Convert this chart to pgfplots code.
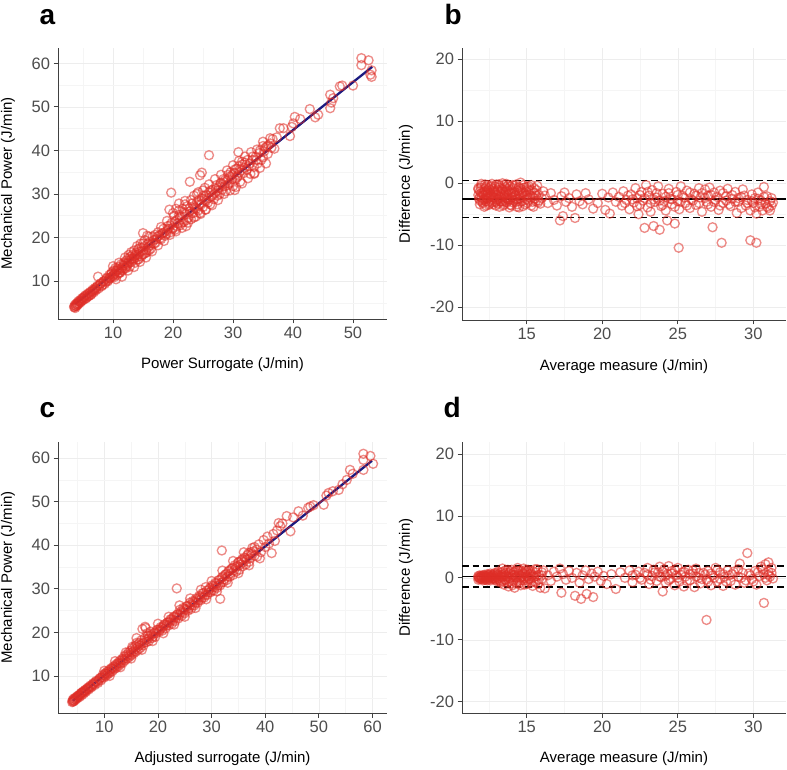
\documentclass[border=0pt]{standalone}
\usepackage{fontspec}
\setmainfont{Liberation Sans}
\usepackage{pgfplots}
\pgfplotsset{compat=1.18}
\usepackage{pgfplotstable}

\definecolor{ptred}{RGB}{222,45,38}
\definecolor{navyline}{RGB}{26,26,128}
\definecolor{tickgrey}{RGB}{77,77,77}

\pgfplotstableread{
x y
3.5 4.0
3.6 4.4
3.7 3.8
3.8 4.7
3.9 4.2
4.0 4.9
4.1 4.5
4.2 5.3
4.3 4.8
4.5 5.6
4.6 5.1
4.8 6.0
4.9 5.5
5.1 6.3
5.2 5.8
5.4 6.7
5.6 6.2
5.8 7.1
6.0 6.6
6.2 7.5
6.4 7.0
6.6 8.0
6.8 7.4
7.0 8.4
7.2 7.9
7.5 11.0
7.4 8.9
7.6 8.3
7.9 9.4
8.1 8.8
8.4 9.9
8.6 9.3
8.9 10.5
9.1 9.9
9.3 10.6
9.4 11.4
9.6 10.9
9.8 12.0
10.0 11.2
10.1 12.4
10.2 10.9
10.3 11.8
10.4 13.0
10.6 12.2
10.7 11.4
10.9 13.2
11.0 12.6
11.1 12.0
11.2 11.9
11.3 13.8
11.5 13.0
11.6 12.4
11.8 14.2
11.9 13.5
12.0 13.0
12.1 12.9
12.2 14.7
12.4 13.9
12.5 15.2
12.6 16.0
12.7 14.2
12.8 13.3
13.0 15.0
13.1 14.4
13.3 16.1
13.4 14.8
13.5 17.0
13.6 15.7
13.7 14.2
13.9 16.5
14.0 15.5
14.1 14.9
14.2 17.3
14.3 15.0
14.5 16.7
14.6 18.6
14.8 17.6
14.9 16.0
15.0 21.0
15.1 16.2
15.3 19.4
15.5 17.0
15.6 16.6
15.7 20.4
15.9 17.8
16.1 19.0
16.3 17.4
16.6 20.2
16.9 18.6
17.2 19.6
17.5 21.2
17.8 19.8
18.1 20.8
18.4 22.0
18.7 20.4
19.0 21.6
19.2 22.0
19.4 26.4
19.6 21.2
19.7 30.3
19.8 23.4
20.0 22.2
20.2 25.0
20.4 21.8
20.6 24.0
20.8 23.2
21.0 27.8
21.2 22.8
21.4 24.8
21.6 26.6
21.8 23.6
22.0 25.4
22.2 22.6
22.4 27.2
22.6 24.6
22.8 32.8
22.8 26.0
23.0 24.2
23.2 27.8
23.4 25.6
23.6 26.8
23.8 24.8
24.0 28.2
24.2 26.2
24.4 27.6
24.5 34.3
24.6 25.4
24.8 34.9
24.8 29.0
25.0 27.0
25.2 28.6
25.4 26.4
25.6 29.8
25.8 28.0
26.0 38.9
26.0 30.4
26.2 27.6
26.4 29.4
26.6 31.0
26.8 28.8
27.0 30.2
27.2 32.0
27.4 29.6
27.6 31.4
27.8 30.0
28.0 32.6
28.2 31.0
28.4 33.4
28.6 31.8
28.8 30.6
29.0 33.0
29.2 34.4
29.4 32.4
29.6 35.0
29.8 33.4
30.0 31.8
30.2 34.8
30.3 30.9
30.4 33.2
30.6 35.8
30.8 34.2
30.9 39.6
31.0 36.4
31.2 32.8
31.4 35.4
31.6 36.8
31.8 34.8
32.0 37.2
32.3 35.6
32.6 36.4
32.9 34.6
33.2 37.8
33.5 36.2
33.6 34.8
33.8 38.6
34.1 37.0
34.4 39.4
34.7 37.8
35.0 42.0
35.0 38.4
35.4 40.6
35.6 40.9
35.8 39.2
36.2 42.8
36.2 41.6
36.6 42.6
36.9 40.4
37.3 43.0
37.8 45.1
38.4 45.1
39.5 43.3
39.8 45.4
40.05 46.2
40.3 47.7
41.2 47.2
42.8 49.5
43.7 47.6
44.2 48.2
46.2 52.8
46.2 49.7
46.4 51.0
46.7 52.0
47.8 54.7
48.2 54.9
50.0 54.9
51.4 61.2
51.4 59.6
52.6 60.7
53.1 58.4
53.1 56.9
52.9 57.4
3.6 4.1
3.8 4.3
4.0 4.6
4.2 4.9
4.4 5.2
4.7 5.4
5.0 6.0
5.3 6.4
5.5 6.0
5.7 6.8
5.9 6.5
6.1 7.2
6.3 6.8
6.5 7.6
6.7 7.7
6.9 8.0
7.1 8.2
7.3 8.6
7.7 9.0
8.0 9.5
8.2 9.0
8.5 10.0
8.8 9.8
9.0 10.8
9.2 10.2
9.5 10.6
9.7 11.6
9.9 11.0
10.2 11.5
10.5 12.4
10.8 12.8
11.0 11.8
11.4 12.6
11.7 13.6
12.0 14.0
12.3 13.4
12.6 14.6
12.9 15.6
13.2 15.2
13.5 15.2
13.8 16.0
14.1 16.0
14.4 17.6
14.7 15.6
15.0 17.0
15.2 18.0
15.4 16.4
15.8 18.6
16.0 17.0
16.2 18.2
16.5 18.6
16.8 19.4
17.1 18.8
17.4 20.2
17.7 20.4
18.0 19.6
18.3 21.0
18.6 21.2
18.9 20.8
19.1 22.6
19.5 22.8
19.9 22.0
20.3 23.6
20.7 22.6
21.1 24.6
21.5 23.4
21.9 25.8
22.3 24.0
22.7 26.6
23.1 25.6
23.5 27.2
23.9 26.6
24.3 28.6
24.7 27.6
25.1 29.6
25.5 28.4
25.9 29.0
26.3 30.8
26.7 29.8
27.1 31.2
27.5 30.8
27.9 32.4
28.3 32.2
28.7 33.2
29.1 32.0
29.5 34.0
29.9 34.4
30.3 35.6
30.7 33.8
31.1 35.0
31.5 37.4
31.9 36.0
32.4 37.8
32.8 37.0
33.3 38.6
33.9 37.8
34.5 40.0
35.2 39.8
35.9 41.2
36.4 40.6
21.0 26.2
22.0 27.6
23.5 29.6
20.5 26.6
24.2 30.4
25.3 31.4
10.0 13.4
10.5 10.4
11.0 14.2
11.5 11.0
12.0 15.4
12.5 12.4
13.0 16.6
13.5 13.2
14.0 18.0
14.5 14.4
15.0 18.6
15.5 15.4
16.0 20.2
16.5 16.8
17.0 20.6
17.5 18.2
18.0 22.4
18.5 19.2
19.0 23.8
19.5 20.6
20.0 25.6
20.5 21.4
21.0 25.2
21.5 22.2
22.0 28.4
22.5 23.4
23.0 28.6
23.5 24.6
24.0 30.0
24.5 25.6
25.0 30.8
25.5 26.4
26.0 32.2
26.5 27.4
27.0 33.4
27.5 28.6
28.0 34.4
28.5 30.0
29.0 35.4
29.5 30.8
30.0 36.6
30.5 31.6
31.0 37.6
31.5 32.4
32.0 38.6
32.5 33.6
33.0 39.6
33.5 34.6
34.0 40.2
34.5 36.0
35.0 41.0
35.5 37.0
}\dataA

\pgfplotstableread{
x y
4.0 4.0
4.1 4.5
4.2 4.1
4.3 4.8
4.4 4.3
4.6 5.0
4.7 4.6
4.9 5.3
5.0 4.9
5.2 5.6
5.4 5.2
5.6 6.0
5.8 5.6
6.0 6.4
6.2 6.0
6.4 6.8
6.6 6.4
6.9 7.3
7.1 6.9
7.4 7.8
7.6 7.4
7.9 8.3
8.2 7.9
8.5 8.9
8.8 8.4
9.1 9.4
9.4 9.0
9.7 10.2
9.9 9.6
10.1 10.6
10.3 10.0
10.5 11.0
10.7 10.4
10.9 11.4
11.1 10.8
11.3 11.8
11.5 11.1
11.7 12.2
11.9 11.6
12.1 12.6
12.3 11.9
12.5 13.0
12.7 12.3
12.9 13.5
13.1 12.8
13.3 13.9
13.5 13.1
13.7 14.5
13.9 13.6
14.1 14.9
14.3 14.0
14.5 15.4
14.7 14.4
14.9 15.8
15.1 14.8
15.2 16.7
15.3 16.4
15.5 15.2
15.7 16.8
15.9 15.6
16.0 18.7
16.1 17.2
16.3 16.0
16.5 17.6
16.7 16.4
16.9 18.2
17.1 20.8
17.3 17.0
17.5 18.6
17.6 21.3
17.7 21.0
17.9 17.8
18.1 19.2
18.3 18.0
18.6 20.2
18.9 18.7
19.2 19.8
19.5 19.0
19.8 20.6
20.2 20.2
20.5 21.2
20.8 20.4
21.1 21.8
21.4 20.9
21.7 22.2
22.0 21.6
22.3 23.0
22.6 22.0
22.9 23.6
23.2 22.6
23.5 30.1
23.5 24.0
23.8 23.2
24.1 25.2
24.4 23.8
24.7 25.6
25.0 24.4
25.3 26.0
25.6 25.0
25.9 26.8
26.2 25.4
26.5 27.2
26.8 26.2
27.1 27.8
27.4 26.8
27.7 28.4
28.0 27.4
28.3 29.0
28.6 28.0
28.9 30.4
29.2 28.6
29.5 29.8
29.8 29.2
30.1 30.8
30.4 29.6
30.7 31.4
31.0 30.2
31.3 32.0
31.6 27.7
31.6 30.8
31.9 38.8
31.9 32.6
32.2 31.6
32.5 33.2
32.8 32.0
33.1 34.0
33.4 32.8
33.7 34.6
34.0 33.2
34.3 35.4
34.6 34.0
34.9 36.0
35.2 34.4
35.5 36.4
35.8 35.2
36.1 37.2
36.4 35.6
36.7 37.8
37.0 36.2
37.3 38.4
37.6 39.4
38.0 37.6
38.4 39.0
38.5 37.4
38.8 40.2
39.2 38.4
39.7 41.2
40.0 39.6
40.4 42.0
40.7 40.4
41.2 38.2
41.5 42.6
41.8 41.0
42.2 43.4
42.5 45.1
42.8 44.4
43.2 45.0
44.0 46.7
44.7 43.2
45.2 46.4
46.2 47.8
47.0 46.8
48.0 48.6
48.4 48.9
49.0 49.2
50.9 49.3
51.4 51.4
51.8 52.0
52.6 52.4
53.7 52.7
54.4 54.0
55.2 55.0
55.8 57.3
56.3 56.4
58.3 61.0
58.3 59.6
58.3 57.3
59.6 60.5
60.1 58.7
4.1 4.2
4.3 4.4
4.5 4.7
4.8 5.0
5.1 5.3
5.3 5.5
5.5 5.7
5.7 6.1
5.9 6.2
6.1 6.3
6.3 6.6
6.5 6.6
6.7 7.0
7.0 7.1
7.2 7.5
7.5 7.5
7.8 8.0
8.0 8.1
8.3 8.6
8.7 8.7
9.0 9.1
9.3 9.6
9.6 9.7
10.0 10.1
10.2 10.5
10.6 10.6
11.0 11.1
11.4 11.6
11.8 11.9
12.2 12.3
12.6 12.8
13.0 13.1
13.4 13.6
13.8 14.0
14.2 14.5
14.6 14.8
15.0 15.4
15.4 15.6
15.8 16.2
16.2 16.6
16.6 17.0
17.0 17.4
17.4 17.6
17.8 18.3
18.2 18.6
18.5 19.2
18.8 19.4
19.1 19.1
19.4 20.0
19.7 19.8
20.0 20.6
20.4 20.6
20.7 21.0
21.0 21.4
21.3 21.8
21.6 21.6
21.9 22.4
22.2 22.3
22.5 23.0
22.8 22.8
23.1 23.6
23.4 23.4
23.7 24.2
24.0 24.0
24.3 24.8
24.6 24.6
24.9 25.4
25.2 25.2
25.5 26.0
25.8 25.6
26.1 26.4
26.4 26.2
26.7 27.0
27.0 26.8
27.3 27.6
27.6 27.4
27.9 28.2
28.2 28.0
28.5 29.0
28.8 28.6
29.1 29.6
29.4 29.2
29.7 30.2
30.0 29.6
30.3 30.6
30.6 30.4
30.9 31.2
31.2 30.8
31.5 32.0
31.8 31.4
32.1 32.8
32.4 32.2
32.7 33.4
33.0 32.8
33.3 34.2
33.6 33.6
33.9 34.8
34.2 34.2
34.5 35.0
34.8 35.2
35.1 36.2
35.4 35.6
35.7 36.8
36.0 36.2
36.3 37.0
36.6 36.8
36.9 38.2
37.2 37.0
37.5 38.0
37.8 38.6
10.0 11.2
11.0 10.0
12.0 13.4
13.0 12.0
14.0 15.4
15.0 14.0
16.0 17.6
17.0 16.0
18.0 19.8
19.0 18.0
20.0 22.0
21.0 19.8
22.0 23.6
23.0 21.8
24.0 26.2
25.0 23.6
26.0 27.8
27.0 25.6
28.0 29.8
29.0 27.6
30.0 31.8
31.0 29.4
32.0 34.2
33.0 31.4
34.0 36.4
35.0 33.6
36.0 38.4
37.0 35.4
38.0 39.6
39.0 37.0
}\dataC

\pgfplotstableread{
x y
11.8 -0.8
11.8 -1.9
11.9 -2.8
11.9 -1.3
12.0 -0.4
12.0 -2.3
12.1 -3.2
12.1 -1.6
12.2 -0.9
12.2 -2.6
12.3 -1.9
12.3 -3.6
12.4 -0.3
12.4 -1.2
12.5 -2.2
12.5 -3.0
12.6 -1.6
12.6 -0.6
12.7 -2.7
12.7 -1.9
12.8 -3.4
12.8 -0.9
12.9 -1.4
12.9 -2.4
13.0 -0.2
13.0 -3.0
13.1 -1.8
13.1 -2.6
13.2 -0.7
13.2 -3.8
13.3 -1.3
13.3 -2.2
13.4 0.0
13.4 -2.9
13.5 -1.6
13.5 -3.4
13.6 -0.6
13.6 -2.4
13.7 -1.9
13.7 -3.1
13.8 -0.3
13.8 -1.2
13.9 -2.6
14.0 -1.7
14.0 -3.6
14.1 -0.8
14.1 -2.2
14.2 -1.4
14.3 -3.0
14.3 -0.2
14.4 -2.5
14.5 -1.8
14.5 -3.9
14.6 -0.9
14.6 0.1
14.7 -2.9
14.8 -1.5
14.8 -2.3
14.9 -3.4
15.0 -0.6
15.0 -1.9
15.1 -2.8
15.2 -1.2
15.3 -3.6
15.3 -0.3
15.4 -2.2
15.5 -1.5
15.6 -2.9
15.7 -0.4
15.8 -1.9
15.9 -3.3
16.0 -2.4
16.2 -2.0
16.4 -3.2
16.6 -1.6
16.8 -2.7
17.0 -3.6
17.2 -6.0
17.3 -2.1
17.4 -5.3
17.5 -1.5
17.6 -3.0
17.8 -2.4
18.0 -3.8
18.2 -5.6
18.3 -1.8
18.5 -2.9
18.7 -3.4
18.9 -1.6
19.1 -2.6
19.4 -4.1
19.7 -3.2
20.0 -1.7
20.2 -4.3
20.4 -2.3
20.5 -4.9
20.7 -1.5
20.9 -3.0
21.1 -2.2
21.3 -3.6
21.4 -1.3
21.6 -2.7
21.8 -4.2
21.9 -1.8
22.1 -3.1
22.2 -0.8
22.3 -2.4
22.4 -5.0
22.5 -3.5
22.6 -1.4
22.7 -2.8
22.8 -7.2
22.9 -0.3
23.0 -3.9
23.1 -2.0
23.2 -4.6
23.3 -1.1
23.4 -6.9
23.5 -3.0
23.6 -2.3
23.7 -0.5
23.8 -7.5
23.9 -3.7
24.0 -1.7
24.1 -2.9
24.2 -4.4
24.3 -6.0
24.4 -0.9
24.5 -2.5
24.6 -3.4
24.8 -6.5
24.9 -1.4
25.0 -2.9
25.06 -10.4
25.1 -4.2
25.2 -0.5
25.3 -2.0
25.5 -3.2
25.6 -1.2
25.8 -4.0
25.9 -2.6
26.1 -1.7
26.2 -3.5
26.4 -0.8
26.5 -2.3
26.6 -4.6
26.8 -1.0
26.9 -3.0
27.0 -2.0
27.1 -0.7
27.2 -3.8
27.3 -7.1
27.4 -1.5
27.5 -2.7
27.7 -4.3
27.8 -1.2
27.9 -9.6
28.0 -3.2
28.2 -2.1
28.3 -0.9
28.5 -3.7
28.6 -2.5
28.8 -1.4
28.9 -4.8
29.0 -3.0
29.2 -2.2
29.3 -1.0
29.5 -3.6
29.6 -2.7
29.8 -9.2
29.8 -4.4
29.9 -1.8
30.0 -3.2
30.1 -2.4
30.2 -9.6
30.2 -4.9
30.3 -1.5
30.4 -3.8
30.5 -2.8
30.6 -4.4
30.7 -0.6
30.8 -3.3
30.9 -2.1
31.0 -4.0
31.1 -2.9
31.2 -3.6
31.3 -3.1
11.8 -1.0
11.9 -2.2
11.9 -3.4
12.0 -1.6
12.0 -0.1
12.1 -2.7
12.2 -1.3
12.2 -3.8
12.3 -0.6
12.3 -2.9
12.4 -1.8
12.4 -2.5
12.5 -0.9
12.5 -3.5
12.6 -2.0
12.6 -1.1
12.7 -3.1
12.7 -0.1
12.8 -2.3
12.8 -1.5
12.9 -3.0
12.9 -0.5
13.0 -1.9
13.0 -2.7
13.1 -1.1
13.1 -3.3
13.2 -0.4
13.2 -2.2
13.3 -1.7
13.3 -3.0
13.4 -1.0
13.4 -2.5
13.5 -0.3
13.5 -2.1
13.6 -1.3
13.6 -3.0
13.7 -2.4
13.7 -0.9
13.8 -2.8
13.8 -1.7
13.9 -0.5
13.9 -3.5
14.0 -2.3
14.0 -1.1
14.1 -3.1
14.2 -2.0
14.2 -0.4
14.3 -2.6
14.4 -1.2
14.4 -3.4
14.5 -0.6
14.6 -2.1
14.6 -3.0
14.7 -1.4
14.8 -0.3
14.9 -2.0
15.0 -2.6
15.1 -1.0
15.2 -2.3
15.4 -3.0
15.5 -0.8
15.6 -2.0
15.8 -2.8
16.1 -1.3
21.5 -3.2
21.7 -2.0
22.0 -2.6
22.3 -3.7
22.5 -1.9
22.8 -2.4
23.0 -1.4
23.2 -3.2
23.4 -2.6
23.6 -1.6
23.8 -2.8
24.0 -3.5
24.2 -2.2
24.4 -1.6
24.6 -2.6
24.8 -3.8
25.0 -1.9
25.2 -3.0
25.4 -2.3
25.6 -3.6
25.8 -1.5
26.0 -2.8
26.2 -2.0
26.4 -3.2
26.6 -1.6
26.8 -2.4
27.0 -3.4
27.2 -1.9
27.4 -3.0
27.6 -2.2
27.8 -3.6
28.0 -1.6
28.2 -2.8
28.4 -3.4
28.6 -1.9
28.8 -3.0
29.0 -2.4
29.2 -4.0
29.4 -2.0
29.6 -3.2
29.9 -2.9
30.1 -3.9
30.3 -2.5
30.5 -3.4
30.7 -2.2
30.9 -3.8
31.1 -4.4
31.2 -2.4
11.85 -2.5
11.95 -0.7
12.05 -3.0
12.15 -1.9
12.25 -0.2
12.35 -2.4
12.45 -1.5
12.55 -3.3
12.65 -0.4
12.75 -2.2
12.85 -1.2
12.95 -3.6
13.05 -1.3
13.15 -0.2
13.25 -2.9
13.35 -0.9
13.45 -3.6
13.55 -1.9
13.65 -0.1
13.75 -2.6
13.85 -3.9
13.95 -1.5
14.05 -0.3
14.15 -2.8
14.25 -1.9
14.35 -3.8
14.45 -0.8
14.55 -2.4
14.65 -1.6
14.75 -3.7
14.85 -0.7
14.95 -1.3
15.05 -3.2
15.15 -0.5
15.25 -2.0
15.35 -1.1
15.45 -3.8
15.55 -2.5
15.65 -1.1
15.75 -3.1
}\dataB

\pgfplotstableread{
x y
11.8 0.1
11.8 -0.3
11.9 0.4
11.9 0.0
12.0 -0.2
12.0 0.3
12.1 0.1
12.1 -0.4
12.2 0.5
12.2 0.0
12.3 -0.3
12.3 0.3
12.4 0.1
12.4 0.6
12.5 -0.2
12.5 0.2
12.6 0.7
12.6 -0.4
12.7 0.2
12.7 0.5
12.8 -0.1
12.9 0.8
12.9 0.1
13.0 -0.5
13.0 0.4
13.1 1.0
13.1 -0.2
13.2 0.3
13.3 -0.8
13.3 0.9
13.4 1.5
13.4 0.1
13.5 -1.1
13.5 0.6
13.6 -0.4
13.6 1.2
13.7 0.2
13.8 -1.4
13.8 0.8
13.9 -0.1
14.0 1.3
14.0 -0.9
14.1 0.4
14.2 -1.6
14.2 1.0
14.3 0.0
14.4 -0.6
14.4 1.6
14.5 0.6
14.6 -1.2
14.6 1.2
14.7 0.2
14.8 -0.4
14.8 1.5
14.9 0.9
15.0 -1.0
15.0 0.3
15.1 1.3
15.2 -0.2
15.3 0.7
15.4 -1.3
15.4 1.1
15.5 0.1
15.6 -0.7
15.7 1.4
15.8 0.5
15.9 -1.6
16.0 0.9
16.0 -0.2
16.1 1.2
16.2 -1.7
16.4 0.4
16.6 -0.5
16.8 1.0
17.0 0.2
17.2 1.5
17.3 -2.4
17.4 0.6
17.6 -0.3
17.8 1.1
18.0 0.0
18.2 -2.9
18.3 0.8
18.5 -0.8
18.6 -3.4
18.7 0.4
18.9 1.2
18.97 -2.6
19.1 -0.2
19.3 0.7
19.4 -3.1
19.5 0.2
19.7 1.0
19.9 -0.5
20.1 0.3
20.3 -1.0
20.6 0.6
20.9 -1.8
21.2 0.9
21.5 0.0
21.8 1.2
22.0 -0.7
22.2 0.5
22.4 1.0
22.6 -0.3
22.8 0.8
23.0 1.6
23.1 -1.0
23.3 0.3
23.4 1.3
23.6 -0.5
23.7 0.9
23.8 1.8
23.9 0.1
24.0 -2.2
24.1 1.4
24.2 -0.8
24.3 0.6
24.4 1.9
24.5 -0.2
24.6 1.1
24.8 -1.2
24.9 0.4
25.0 1.6
25.1 -0.6
25.3 0.9
25.4 -1.4
25.5 0.2
25.7 1.3
25.8 -0.4
26.0 0.7
26.1 -1.5
26.2 1.5
26.4 0.0
26.5 -0.9
26.7 0.8
26.9 -6.8
26.9 -0.3
27.0 1.1
27.2 -1.2
27.3 0.4
27.5 1.6
27.6 -0.6
27.8 0.9
28.0 -1.3
28.1 0.2
28.3 1.2
28.5 -0.5
28.6 0.6
28.8 -1.1
29.0 1.4
29.1 2.3
29.2 0.0
29.4 -0.8
29.6 4.0
29.7 0.7
29.9 -0.2
30.1 1.1
30.2 -1.1
30.4 0.3
30.5 1.8
30.7 -4.05
30.7 0.6
30.8 2.2
30.9 -0.4
31.0 2.5
31.0 1.0
31.1 0.2
31.2 1.6
31.3 -0.1
11.8 0.3
11.9 -0.2
12.0 0.1
12.1 0.4
12.2 -0.3
12.3 0.0
12.4 -0.4
12.5 0.5
12.6 0.1
12.7 -0.2
12.8 0.4
12.9 -0.3
13.0 0.1
13.1 0.5
13.2 -0.4
13.3 0.2
13.4 -0.5
13.5 0.3
13.6 0.8
13.7 -0.7
13.8 0.2
13.9 1.0
14.0 0.1
14.1 -0.5
14.2 0.5
14.3 1.2
14.4 0.2
14.5 -0.9
14.6 0.4
14.7 1.0
14.8 -0.1
14.9 0.6
15.0 1.0
15.1 -0.5
15.2 0.6
15.3 -0.8
15.4 0.4
15.6 0.9
15.8 -0.3
16.0 0.4
22.0 0.4
22.5 0.0
23.0 0.5
23.2 -0.3
23.5 0.9
23.8 0.2
24.0 1.0
24.2 0.3
24.4 -0.4
24.6 0.7
24.8 1.3
25.0 0.0
25.2 0.5
25.4 1.0
25.6 -0.5
25.8 0.6
26.0 1.2
26.2 0.2
26.4 0.8
26.6 -0.2
26.8 0.5
27.0 -0.6
27.2 0.7
27.4 0.0
27.6 1.2
27.8 -0.2
28.0 0.6
28.2 -0.6
28.4 0.4
28.7 1.0
29.0 0.2
29.3 0.8
29.5 -0.4
29.8 0.4
30.0 -0.6
30.3 0.9
30.6 1.4
30.8 0.0
31.0 0.5
31.2 0.8
11.85 0.0
11.95 0.2
12.05 -0.1
12.15 0.3
12.25 0.2
12.35 -0.1
12.45 0.4
12.55 0.0
12.65 0.3
12.75 0.0
12.85 0.6
12.95 -0.2
13.05 0.7
13.15 0.0
13.25 -0.6
13.35 0.5
13.45 1.0
13.55 -0.3
13.65 0.4
13.75 1.3
13.85 -0.6
13.95 0.6
14.05 -1.2
14.15 0.9
14.25 0.1
14.35 -0.9
14.45 1.1
14.55 0.0
14.65 -0.4
14.75 0.7
14.85 -1.1
14.95 1.3
15.05 0.1
15.15 -0.2
15.25 1.1
15.35 0.2
15.45 -0.6
15.55 1.4
15.65 0.3
15.75 -1.0
}\dataD

\pgfplotsset{
  panel/.style={
    scale only axis,
    anchor=south west,
    axis x line*=bottom,
    axis y line*=left,
    axis line style={-, color=black!75, line width=0.8pt},
    tick align=outside,
    major tick length=4.5pt,
    minor tick length=0pt,
    tick style={color=black!75, line width=0.8pt},
    grid=both,
    major grid style={color=black!7, line width=0.5pt},
    minor grid style={color=black!4, line width=0.5pt},
    ticklabel style={font=\fontsize{16.5}{18}\selectfont, text=tickgrey},
    /pgf/number format/assume math mode=true,
    label style={font=\fontsize{15}{17}\selectfont},
    xlabel style={at={(axis description cs:0.5,-0.17)}, anchor=center},
  },
  pts/.style={only marks, mark=o, mark size=4.5pt,
    mark options={draw=ptred, draw opacity=0.55, line width=1.35pt}},
}

\begin{document}
\begin{tikzpicture}
\useasboundingbox (0pt,0pt) rectangle (787pt,769pt);

% panel a
\begin{axis}[panel, at={(58pt,450pt)}, width=329pt, height=271pt,
  xmin=0.83, xmax=55.67, ymin=1.27, ymax=63.53,
  xtick={10,20,...,50}, ytick={10,20,...,60},
  minor xtick={5,15,...,55}, minor ytick={5,15,...,65},
  xlabel={Power Surrogate (J/min)}, ylabel={Mechanical Power (J/min)},
  ylabel style={at={(axis description cs:-0.152,0.5)}, anchor=center}]
\addplot[pts] table {\dataA};
\addplot[navyline, line width=2.3pt] coordinates {(3.7,4.7) (53.2,59.2)};
\end{axis}

% panel b
\begin{axis}[panel, at={(462pt,449pt)}, width=324pt, height=272pt,
  xmin=10.72, xmax=32.16, ymin=-22.05, ymax=21.8,
  xtick={15,20,25,30}, ytick={-20,-10,0,10,20},
  minor xtick={12.5,17.5,22.5,27.5}, minor ytick={-15,-5,5,15},
  xlabel={Average measure (J/min)}, ylabel={Difference (J/min)},
  ylabel style={at={(axis description cs:-0.173,0.5)}, anchor=center}]
\addplot[pts] table {\dataB};
\addplot[black, line width=1.3pt] coordinates {(10.72,-2.55) (32.16,-2.55)};
\addplot[black, line width=1.3pt, dash pattern=on 6.5pt off 4pt] coordinates {(10.72,0.4) (32.16,0.4)};
\addplot[black, line width=1.3pt, dash pattern=on 6.5pt off 4pt] coordinates {(10.72,-5.5) (32.16,-5.5)};
\end{axis}

% panel c
\begin{axis}[panel, at={(58pt,56pt)}, width=329pt, height=271pt,
  xmin=1.36, xmax=62.7, ymin=1.5, ymax=63.7,
  xtick={10,20,...,60}, ytick={10,20,...,60},
  minor xtick={5,15,...,65}, minor ytick={5,15,...,65},
  xlabel={Adjusted surrogate (J/min)}, ylabel={Mechanical Power (J/min)},
  ylabel style={at={(axis description cs:-0.152,0.5)}, anchor=center}]
\addplot[pts] table {\dataC};
\addplot[navyline, line width=2.3pt] coordinates {(4.1,4.3) (59.9,59.4)};
\end{axis}

% panel d
\begin{axis}[panel, at={(462pt,56pt)}, width=324pt, height=271pt,
  xmin=10.72, xmax=32.16, ymin=-21.83, ymax=21.94,
  xtick={15,20,25,30}, ytick={-20,-10,0,10,20},
  minor xtick={12.5,17.5,22.5,27.5}, minor ytick={-15,-5,5,15},
  xlabel={Average measure (J/min)}, ylabel={Difference (J/min)},
  ylabel style={at={(axis description cs:-0.173,0.5)}, anchor=center}]
\addplot[pts] table {\dataD};
\addplot[black, line width=1.3pt] coordinates {(10.72,0.2) (32.16,0.2)};
\addplot[black, line width=1.3pt, dash pattern=on 6.5pt off 4pt] coordinates {(10.72,1.9) (32.16,1.9)};
\addplot[black, line width=1.3pt, dash pattern=on 6.5pt off 4pt] coordinates {(10.72,-1.5) (32.16,-1.5)};
\end{axis}

\node[anchor=base west, font=\fontsize{28}{30}\selectfont\bfseries] at (36pt,744pt) {a};
\node[anchor=base west, font=\fontsize{28}{30}\selectfont\bfseries] at (441pt,744pt) {b};
\node[anchor=base west, font=\fontsize{28}{30}\selectfont\bfseries] at (36pt,351pt) {c};
\node[anchor=base west, font=\fontsize{28}{30}\selectfont\bfseries] at (440pt,351pt) {d};
\end{tikzpicture}
\end{document}
